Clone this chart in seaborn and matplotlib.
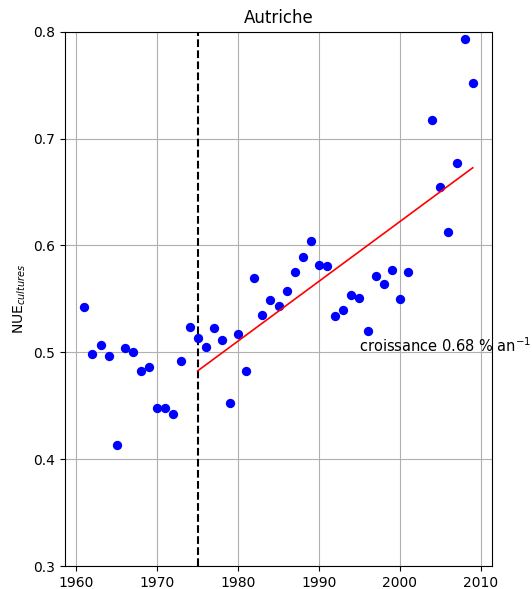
import numpy as np
import pandas as pd
import matplotlib
matplotlib.use('Agg')
import matplotlib.pyplot as plt
import seaborn as sns

# NUE of crops, Austria
years = [1961, 1962, 1963, 1964, 1965, 1966, 1967, 1968, 1969, 1970,
         1971, 1972, 1973, 1974, 1975, 1976, 1977, 1978, 1979, 1980,
         1981, 1982, 1983, 1984, 1985, 1986, 1987, 1988, 1989, 1990,
         1991, 1992, 1993, 1994, 1995, 1996, 1997, 1998, 1999, 2000,
         2001, 2004, 2005, 2006, 2007, 2008, 2009]
nue = [0.542, 0.498, 0.507, 0.497, 0.413, 0.504, 0.500, 0.483, 0.486, 0.448,
       0.448, 0.442, 0.492, 0.524, 0.513, 0.505, 0.523, 0.512, 0.453, 0.517,
       0.483, 0.570, 0.535, 0.549, 0.543, 0.557, 0.575, 0.589, 0.604, 0.582,
       0.581, 0.534, 0.540, 0.554, 0.551, 0.520, 0.571, 0.564, 0.577, 0.550,
       0.575, 0.717, 0.655, 0.613, 0.677, 0.793, 0.752]
break_year = 1975
trend_years = [1975, 2009]
trend_vals = [0.4826, 0.6727]
growth_label = 'croissance 0.68 % an$^{-1}$'

df = pd.DataFrame({'year': years, 'nue': nue})
trend = pd.DataFrame({'year': trend_years, 'nue': trend_vals})

fig, ax = plt.subplots(figsize=(5.32, 5.89), dpi=100)
fig.subplots_adjust(left=0.122, right=0.925, top=0.946, bottom=0.039)

sns.scatterplot(data=df, x='year', y='nue', ax=ax, color='blue', s=45,
                linewidth=0, zorder=3)
sns.lineplot(data=trend, x='year', y='nue', ax=ax, color='red', linewidth=1.2,
             zorder=3)
ax.axvline(break_year, color='black', linestyle='--', linewidth=1.5)

ax.text(1995, 0.5, growth_label, fontsize=10.5)
ax.set_ylim(0.3, 0.8)
ax.set_yticks([0.3, 0.4, 0.5, 0.6, 0.7, 0.8])
ax.set_xlim(1958.6, 2011.4)
ax.grid(True, color='#b0b0b0', linewidth=0.8)
ax.set_axisbelow(True)
ax.set_xlabel('')
ax.set_ylabel('NUE$_{cultures}$')
ax.set_title('Autriche')

plt.savefig('out.png', dpi=100)
